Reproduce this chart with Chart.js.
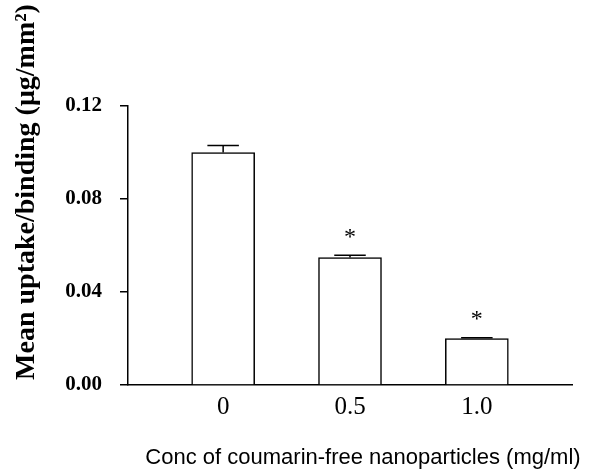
<!DOCTYPE html>
<html>
<head>
<meta charset="utf-8">
<script src="https://cdn.jsdelivr.net/npm/chart.js@4.4.1/dist/chart.umd.min.js"></script>
<style>
  html, body { margin: 0; padding: 0; background: #fff; }
  #wrap { width: 589px; height: 475px; position: relative; }
</style>
</head>
<body>
<div id="wrap"><canvas id="c" width="589" height="475"></canvas></div>
<script>
const categories = ['0', '0.5', '1.0'];
const meanUptake = [0.100, 0.0548, 0.0200];
const errorValues = [0.0030, 0.0010, 0.0003];
const significant = [false, true, true];
const yTicks = [0.00, 0.04, 0.08, 0.12];

const yTitle = 'Mean uptake/binding (\u03bcg/mm\u00b2)';
const xTitle = 'Conc of coumarin-free nanoparticles (mg/ml)';

const extras = {
  id: 'extras',
  afterDatasetsDraw(chart) {
    const ctx = chart.ctx;
    const xs = chart.scales.x, ys = chart.scales.y;
    const meta = chart.getDatasetMeta(0);
    ctx.save();
    ctx.strokeStyle = '#000';
    ctx.lineWidth = 1.5;
    meanUptake.forEach((v, i) => {
      const bar = meta.data[i];
      const cx = xs.getPixelForValue(i);
      const yTop = ys.getPixelForValue(v);
      const yErr = ys.getPixelForValue(v + errorValues[i]);
      const half = bar.width / 4;
      ctx.beginPath();
      ctx.moveTo(cx, yTop);
      ctx.lineTo(cx, yErr);
      ctx.moveTo(cx - half, yErr);
      ctx.lineTo(cx + half, yErr);
      ctx.stroke();
      if (significant[i]) {
        ctx.fillStyle = '#000';
        ctx.font = '24px "Liberation Serif", "Times New Roman", serif';
        ctx.textAlign = 'center';
        ctx.textBaseline = 'middle';
        ctx.fillText('*', cx, yErr - 18);
      }
    });
    // axis titles
    ctx.fillStyle = '#000';
    ctx.font = '22px "Liberation Sans", Arial, sans-serif';
    ctx.textAlign = 'center';
    ctx.textBaseline = 'middle';
    ctx.fillText(xTitle, 363, 458);
    ctx.save();
    ctx.translate(27, 192);
    ctx.rotate(-Math.PI / 2);
    ctx.font = 'bold 28px "Liberation Serif", "Times New Roman", serif';
    ctx.fillText(yTitle, 0, 0);
    ctx.restore();
    ctx.restore();
  }
};

new Chart(document.getElementById('c'), {
  type: 'bar',
  data: {
    datasets: [{
      data: meanUptake.map((v, i) => ({ x: i, y: v })),
      backgroundColor: '#ffffff',
      borderColor: '#000000',
      borderWidth: 1.5,
      barThickness: 63
    }]
  },
  options: {
    responsive: false,
    animation: false,
    devicePixelRatio: 1,
    layout: { padding: { left: 0, right: 17, top: 106, bottom: 0 } },
    plugins: { legend: { display: false }, tooltip: { enabled: false } },
    scales: {
      x: {
        type: 'linear',
        offset: false,
        min: -0.75,
        max: 2.75,
        afterBuildTicks(scale) { scale.ticks = categories.map((c, i) => ({ value: i })); },
        afterFit(scale) { scale.height = 90; },
        grid: { display: false, drawTicks: false, offset: false },
        border: { display: true, color: '#000', width: 1.5 },
        ticks: {
          padding: 7,
          color: '#000',
          font: { family: '"Liberation Serif", "Times New Roman", serif', size: 25 },
          callback: (v) => categories[v] !== undefined ? categories[v] : ''
        }
      },
      y: {
        min: 0,
        max: 0.12,
        afterBuildTicks(scale) { scale.ticks = yTicks.map(v => ({ value: v })); },
        afterFit(scale) { scale.width = 128; },
        grid: { drawOnChartArea: false, drawTicks: true, tickLength: 8, color: '#000', lineWidth: 1.5 },
        border: { display: true, color: '#000', width: 1.5 },
        ticks: {
          padding: 18,
          color: '#000',
          font: { family: '"Liberation Serif", "Times New Roman", serif', size: 21, weight: 'bold' },
          callback: (v) => Number(v).toFixed(2)
        }
      }
    }
  },
  plugins: [extras]
});
</script>
</body>
</html>
